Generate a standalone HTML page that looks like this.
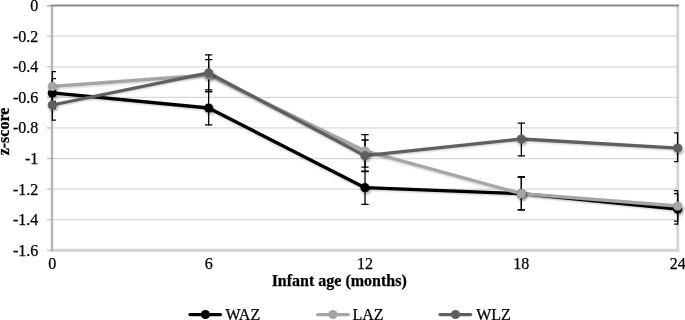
<!DOCTYPE html>
<html><head><meta charset="utf-8"><style>
html,body{margin:0;padding:0;background:#fff;}
body{width:685px;height:320px;overflow:hidden;}
svg{display:block;will-change:transform;filter:blur(0.3px);}
text{font-family:"Liberation Serif",serif;fill:#000;stroke:#000;stroke-width:0.25px;}
</style></head><body>
<svg width="685" height="320" viewBox="0 0 685 320">
<defs>
<filter id="sh" filterUnits="userSpaceOnUse" x="0" y="0" width="685" height="320">
<feGaussianBlur in="SourceAlpha" stdDeviation="1.6"/>
<feOffset dx="0.5" dy="2" result="b"/>
<feComponentTransfer><feFuncA type="linear" slope="0.35"/></feComponentTransfer>
<feMerge><feMergeNode/><feMergeNode in="SourceGraphic"/></feMerge>
</filter>
<filter id="shl" filterUnits="userSpaceOnUse" x="0" y="0" width="685" height="320">
<feGaussianBlur in="SourceAlpha" stdDeviation="0.9"/>
<feOffset dx="0.3" dy="1.3" result="b"/>
<feComponentTransfer><feFuncA type="linear" slope="0.22"/></feComponentTransfer>
<feMerge><feMergeNode/><feMergeNode in="SourceGraphic"/></feMerge>
</filter>
<clipPath id="pa"><rect x="52" y="0" width="625.6" height="320"/></clipPath>
</defs>
<rect width="685" height="320" fill="#fff"/>

<line x1="52" x2="677.6" y1="36.19" y2="36.19" stroke="#d9d9d9" stroke-width="1.3"/>
<line x1="52" x2="677.6" y1="66.78" y2="66.78" stroke="#d9d9d9" stroke-width="1.3"/>
<line x1="52" x2="677.6" y1="97.36" y2="97.36" stroke="#d9d9d9" stroke-width="1.3"/>
<line x1="52" x2="677.6" y1="127.95" y2="127.95" stroke="#d9d9d9" stroke-width="1.3"/>
<line x1="52" x2="677.6" y1="158.54" y2="158.54" stroke="#d9d9d9" stroke-width="1.3"/>
<line x1="52" x2="677.6" y1="189.12" y2="189.12" stroke="#d9d9d9" stroke-width="1.3"/>
<line x1="52" x2="677.6" y1="219.71" y2="219.71" stroke="#d9d9d9" stroke-width="1.3"/>
<line x1="47" x2="52" y1="5.60" y2="5.60" stroke="#c0c0c0" stroke-width="1.3"/>
<line x1="47" x2="52" y1="36.19" y2="36.19" stroke="#c0c0c0" stroke-width="1.3"/>
<line x1="47" x2="52" y1="66.78" y2="66.78" stroke="#c0c0c0" stroke-width="1.3"/>
<line x1="47" x2="52" y1="97.36" y2="97.36" stroke="#c0c0c0" stroke-width="1.3"/>
<line x1="47" x2="52" y1="127.95" y2="127.95" stroke="#c0c0c0" stroke-width="1.3"/>
<line x1="47" x2="52" y1="158.54" y2="158.54" stroke="#c0c0c0" stroke-width="1.3"/>
<line x1="47" x2="52" y1="189.12" y2="189.12" stroke="#c0c0c0" stroke-width="1.3"/>
<line x1="47" x2="52" y1="219.71" y2="219.71" stroke="#c0c0c0" stroke-width="1.3"/>
<line x1="47" x2="52" y1="250.30" y2="250.30" stroke="#c0c0c0" stroke-width="1.3"/>
<line x1="677.7" x2="677.7" y1="5" y2="251.5" stroke="#d6d6d6" stroke-width="3"/>
<line x1="50.7" x2="679.2" y1="250.3" y2="250.3" stroke="#d3d3d3" stroke-width="3"/>
<line x1="52" x2="52" y1="5" y2="251.5" stroke="#b6b6b6" stroke-width="2.4"/>
<line x1="51" x2="679" y1="5.6" y2="5.6" stroke="#8a8a8a" stroke-width="2"/>
<line x1="47" x2="51" y1="5.8" y2="5.8" stroke="#b4b4b4" stroke-width="1.6"/>
<text x="38.3" y="11.00" font-size="16" text-anchor="end">0</text>
<text x="38.3" y="41.59" font-size="16" text-anchor="end">-0.2</text>
<text x="38.3" y="72.18" font-size="16" text-anchor="end">-0.4</text>
<text x="38.3" y="102.76" font-size="16" text-anchor="end">-0.6</text>
<text x="38.3" y="133.35" font-size="16" text-anchor="end">-0.8</text>
<text x="38.3" y="163.94" font-size="16" text-anchor="end">-1</text>
<text x="38.3" y="194.53" font-size="16" text-anchor="end">-1.2</text>
<text x="38.3" y="225.11" font-size="16" text-anchor="end">-1.4</text>
<text x="38.3" y="255.70" font-size="16" text-anchor="end">-1.6</text>
<text x="52.30" y="269" font-size="16" text-anchor="middle">0</text>
<text x="208.65" y="269" font-size="16" text-anchor="middle">6</text>
<text x="365.00" y="269" font-size="16" text-anchor="middle">12</text>
<text x="521.35" y="269" font-size="16" text-anchor="middle">18</text>
<text x="677.70" y="269" font-size="16" text-anchor="middle">24</text>
<text x="339.2" y="285.5" font-size="16" font-weight="bold" text-anchor="middle">Infant age (months)</text>
<text transform="translate(8.8,131.5) rotate(-90)" font-size="16" font-weight="bold" text-anchor="middle">z-score</text>
<polyline points="52.30,92.90 208.65,108.00 365.00,187.70 521.35,193.70 677.70,209.00" fill="none" stroke="#000000" stroke-width="3.3" stroke-linejoin="round" stroke-linecap="round" filter="url(#shl)"/>
<polyline points="52.30,86.40 208.65,75.00 365.00,150.90 521.35,193.70 677.70,206.00" fill="none" stroke="#a5a5a5" stroke-width="3.3" stroke-linejoin="round" stroke-linecap="round" filter="url(#shl)"/>
<polyline points="52.30,105.00 208.65,72.90 365.00,155.70 521.35,139.00 677.70,148.10" fill="none" stroke="#5f5f5f" stroke-width="3.3" stroke-linejoin="round" stroke-linecap="round" filter="url(#shl)"/>
<path d="M52.30 78.05V109.15" stroke="#000" stroke-width="1.3" fill="none"/>
<path d="M208.65 90.95V125.55" stroke="#000" stroke-width="1.3" fill="none"/>
<path d="M365.00 170.85V205.05" stroke="#000" stroke-width="1.3" fill="none"/>
<path d="M521.35 176.35V210.45" stroke="#000" stroke-width="1.3" fill="none"/>
<path d="M677.70 193.05V224.85" stroke="#000" stroke-width="1.3" fill="none"/>
<path d="M52.30 71.05V101.95" stroke="#000" stroke-width="1.3" fill="none"/>
<path d="M208.65 58.95V92.25" stroke="#000" stroke-width="1.3" fill="none"/>
<path d="M365.00 134.05V167.75" stroke="#000" stroke-width="1.3" fill="none"/>
<path d="M521.35 176.35V210.45" stroke="#000" stroke-width="1.3" fill="none"/>
<path d="M677.70 189.95V221.75" stroke="#000" stroke-width="1.3" fill="none"/>
<path d="M52.30 89.65V120.75" stroke="#000" stroke-width="1.3" fill="none"/>
<path d="M208.65 54.15V90.45" stroke="#000" stroke-width="1.3" fill="none"/>
<path d="M365.00 139.35V171.75" stroke="#000" stroke-width="1.3" fill="none"/>
<path d="M521.35 122.55V156.55" stroke="#000" stroke-width="1.3" fill="none"/>
<path d="M677.70 132.25V162.35" stroke="#000" stroke-width="1.3" fill="none"/>
<g clip-path="url(#pa)">
<path d="M48.65 78.70H55.95M48.65 108.50H55.95" stroke="#000" stroke-width="1.3" fill="none"/>
<path d="M205.00 91.60H212.30M205.00 124.90H212.30" stroke="#000" stroke-width="1.3" fill="none"/>
<path d="M361.35 171.50H368.65M361.35 204.40H368.65" stroke="#000" stroke-width="1.3" fill="none"/>
<path d="M517.70 177.00H525.00M517.70 209.80H525.00" stroke="#000" stroke-width="1.3" fill="none"/>
<path d="M674.05 193.70H681.35M674.05 224.20H681.35" stroke="#000" stroke-width="1.3" fill="none"/>
<path d="M48.65 71.70H55.95M48.65 101.30H55.95" stroke="#000" stroke-width="1.3" fill="none"/>
<path d="M205.00 59.60H212.30M205.00 91.60H212.30" stroke="#000" stroke-width="1.3" fill="none"/>
<path d="M361.35 134.70H368.65M361.35 167.10H368.65" stroke="#000" stroke-width="1.3" fill="none"/>
<path d="M517.70 177.00H525.00M517.70 209.80H525.00" stroke="#000" stroke-width="1.3" fill="none"/>
<path d="M674.05 190.60H681.35M674.05 221.10H681.35" stroke="#000" stroke-width="1.3" fill="none"/>
<path d="M48.65 90.30H55.95M48.65 120.10H55.95" stroke="#000" stroke-width="1.3" fill="none"/>
<path d="M205.00 54.80H212.30M205.00 89.80H212.30" stroke="#000" stroke-width="1.3" fill="none"/>
<path d="M361.35 140.00H368.65M361.35 171.10H368.65" stroke="#000" stroke-width="1.3" fill="none"/>
<path d="M517.70 123.20H525.00M517.70 155.90H525.00" stroke="#000" stroke-width="1.3" fill="none"/>
<path d="M674.05 132.90H681.35M674.05 161.70H681.35" stroke="#000" stroke-width="1.3" fill="none"/>
</g>
<circle cx="52.30" cy="92.90" r="4.6" fill="#000000" filter="url(#sh)"/>
<circle cx="208.65" cy="108.00" r="4.6" fill="#000000" filter="url(#sh)"/>
<circle cx="365.00" cy="187.70" r="4.6" fill="#000000" filter="url(#sh)"/>
<circle cx="521.35" cy="193.70" r="4.6" fill="#000000" filter="url(#sh)"/>
<circle cx="677.70" cy="209.00" r="4.6" fill="#000000" filter="url(#sh)"/>
<circle cx="52.30" cy="86.40" r="4.6" fill="#a5a5a5" filter="url(#sh)"/>
<circle cx="208.65" cy="75.00" r="4.6" fill="#a5a5a5" filter="url(#sh)"/>
<circle cx="365.00" cy="150.90" r="4.6" fill="#a5a5a5" filter="url(#sh)"/>
<circle cx="521.35" cy="193.70" r="4.6" fill="#a5a5a5" filter="url(#sh)"/>
<circle cx="677.70" cy="206.00" r="4.6" fill="#a5a5a5" filter="url(#sh)"/>
<circle cx="52.30" cy="105.00" r="4.6" fill="#5f5f5f" filter="url(#sh)"/>
<circle cx="208.65" cy="72.90" r="4.6" fill="#5f5f5f" filter="url(#sh)"/>
<circle cx="365.00" cy="155.70" r="4.6" fill="#5f5f5f" filter="url(#sh)"/>
<circle cx="521.35" cy="139.00" r="4.6" fill="#5f5f5f" filter="url(#sh)"/>
<circle cx="677.70" cy="148.10" r="4.6" fill="#5f5f5f" filter="url(#sh)"/>
<line x1="189.9" x2="220.5" y1="314.6" y2="314.6" stroke="#000000" stroke-width="3.1" stroke-linecap="round"/>
<circle cx="205.4" cy="314.5" r="4.6" fill="#000000"/>
<text x="225.5" y="320.3" font-size="16">WAZ</text>
<line x1="317.6" x2="348.4" y1="314.6" y2="314.6" stroke="#a5a5a5" stroke-width="3.1" stroke-linecap="round"/>
<circle cx="332.9" cy="314.5" r="4.6" fill="#a5a5a5"/>
<text x="352.4" y="320.3" font-size="16">LAZ</text>
<line x1="439.9" x2="470.7" y1="314.6" y2="314.6" stroke="#5f5f5f" stroke-width="3.1" stroke-linecap="round"/>
<circle cx="455.5" cy="314.5" r="4.6" fill="#5f5f5f"/>
<text x="476.2" y="320.3" font-size="16">WLZ</text>
</svg></body></html>
